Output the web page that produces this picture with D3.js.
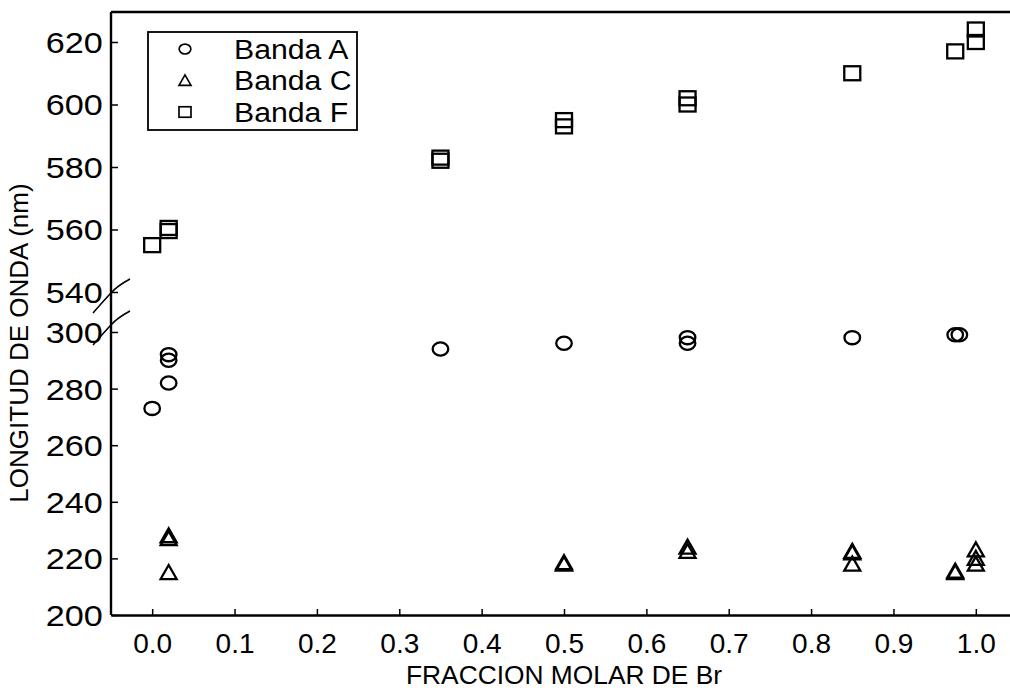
<!DOCTYPE html>
<html>
<head>
<meta charset="utf-8">
<script src="https://cdn.jsdelivr.net/npm/d3@7"></script>
<style>
  body { margin: 0; background: #fff; }
  text { font-family: "Liberation Sans", Arial, sans-serif; fill: #000; }
</style>
</head>
<body>
<svg id="chart" width="1010" height="690"></svg>
<script>
// Tick values for the two segments of the broken wavelength axis
const xTicks = [0, 0.1, 0.2, 0.3, 0.4, 0.5, 0.6, 0.7, 0.8, 0.9, 1.0];
const yTicksLow = [200, 220, 240, 260, 280, 300];
const yTicksHigh = [540, 560, 580, 600, 620];

// Banda A (circles)
const bandaAx = [0, 0.02, 0.02, 0.02, 0.35, 0.5, 0.65, 0.65, 0.85, 0.975, 0.98];
const bandaAy = [273, 282, 290, 292, 294, 296, 298, 296, 298, 299, 299];

// Banda C (triangles)
const bandaCx = [0.02, 0.02, 0.02, 0.5, 0.5, 0.65, 0.65, 0.85, 0.85, 0.85, 0.975, 0.975, 1.0, 1.0, 1.0];
const bandaCy = [228, 227, 215, 218.5, 218, 224, 222.5, 222.5, 222, 218, 215.5, 215, 223, 220, 218];

// Banda F (squares)
const bandaFx = [0, 0.02, 0.02, 0.35, 0.35, 0.5, 0.5, 0.65, 0.65, 0.85, 0.975, 1.0, 1.0];
const bandaFy = [555, 560.5, 559.5, 583, 582, 595, 593, 602, 600, 610, 617, 624, 620];

const legendLabels = ["Banda A", "Banda C", "Banda F"];

const FONT = '"Liberation Sans", Arial, sans-serif';
const svg = d3.select("#chart");

const x = d3.scaleLinear().domain([-0.05, 1.05]).range([111, 1017]);
const yLow = d3.scaleLinear().domain([200, 300]).range([615, 332]);
const yHigh = d3.scaleLinear().domain([540, 620]).range([292, 42]);
const y = v => (v >= 500 ? yHigh(v) : yLow(v));

const plotLeft = x(-0.05), plotRight = x(1.05), plotTop = 12, plotBottom = yLow(200);

// frame: left and top lines
svg.append("line").attr("x1", plotLeft).attr("x2", plotLeft).attr("y1", plotTop).attr("y2", plotBottom)
  .attr("stroke", "#000").attr("stroke-width", 2.4);
svg.append("line").attr("x1", plotLeft).attr("x2", plotRight).attr("y1", plotTop).attr("y2", plotTop)
  .attr("stroke", "#000").attr("stroke-width", 2.4);

// x axis (ticks pointing inward)
const xAxis = d3.axisBottom(x).tickValues(xTicks).tickFormat(d3.format(".1f"))
  .tickSizeInner(-6).tickSizeOuter(0).tickPadding(18);
const gx = svg.append("g").attr("transform", `translate(0,${plotBottom})`).call(xAxis);
gx.select(".domain").attr("stroke-width", 2.4);
gx.selectAll(".tick line").attr("stroke-width", 1.5);
gx.selectAll("text").attr("font-size", 28).style("font-family", FONT);

// y axis, lower and upper segments
function yAxisSeg(scale, ticks) {
  const ax = d3.axisLeft(scale).tickValues(ticks).tickFormat(d3.format("d"))
    .tickSizeInner(-7).tickSizeOuter(0).tickPadding(7);
  const g = svg.append("g").attr("transform", `translate(${plotLeft},0)`).call(ax);
  g.select(".domain").remove();
  g.selectAll(".tick line").attr("stroke-width", 1.5);
  g.selectAll("text").attr("font-size", 29).style("font-family", FONT)
    .attr("dy", "0.36em").attr("transform", "scale(1.18,1)");
}
yAxisSeg(yLow, yTicksLow);
yAxisSeg(yHigh, yTicksHigh);

// break marks across the left axis
const breakUp = yHigh(540) + 3, breakLow = yLow(300) - 5;
[breakUp, breakLow].forEach(by => {
  svg.append("path")
    .attr("d", `M${plotLeft - 18},${by + 18} Q${plotLeft - 4},${by + 2} ${plotLeft},${by - 2} Q${plotLeft + 6},${by - 9} ${plotLeft + 19},${by - 16}`)
    .attr("fill", "none").attr("stroke", "#000").attr("stroke-width", 1.6);
});

// axis titles
svg.append("text").attr("x", (x(0) + x(1)) / 2).attr("y", 684)
  .attr("text-anchor", "middle").attr("font-size", 25)
  .attr("textLength", 316).attr("lengthAdjust", "spacingAndGlyphs")
  .text("FRACCION MOLAR DE Br");
svg.append("text").attr("transform", `translate(28,${343}) rotate(-90)`)
  .attr("text-anchor", "middle").attr("font-size", 26).text("LONGITUD DE ONDA (nm)");

// marker shapes
const mark = {
  circle: (g) => g.append("ellipse").attr("rx", 7.8).attr("ry", 6.6),
  triangle: (g) => g.append("path").attr("d", "M0,-7.5 L8,6.5 L-8,6.5 Z"),
  square: (g) => g.append("rect").attr("x", -8).attr("y", -7).attr("width", 16).attr("height", 14)
};

function drawSeries(xs, ys, shape) {
  const pts = xs.map((v, i) => ({ x: v, y: ys[i] }));
  svg.append("g").selectAll("g").data(pts).join("g")
    .attr("transform", d => `translate(${x(d.x)},${y(d.y)})`)
    .each(function () {
      mark[shape](d3.select(this)).attr("fill", "none").attr("stroke", "#000").attr("stroke-width", 2.3);
    });
}
drawSeries(bandaAx, bandaAy, "circle");
drawSeries(bandaCx, bandaCy, "triangle");
drawSeries(bandaFx, bandaFy, "square");

// legend
const lg = svg.append("g");
lg.append("rect").attr("x", 148).attr("y", 32).attr("width", 209).attr("height", 98)
  .attr("fill", "#fff").attr("stroke", "#000").attr("stroke-width", 1.8);
const shapes = ["circle", "triangle", "square"];
legendLabels.forEach((lab, i) => {
  const ry = 49 + i * 31.5;
  const sg = lg.append("g").attr("transform", `translate(185,${ry})`);
  mark[shapes[i]](sg).attr("fill", "none").attr("stroke", "#000").attr("stroke-width", 2.2)
    .attr("transform", "scale(0.75)");
  lg.append("text").attr("x", 0).attr("y", 0).attr("font-size", 27)
    .attr("transform", `translate(234,${ry + 9.5}) scale(1.12,1)`).text(lab);
});
</script>
</body>
</html>
